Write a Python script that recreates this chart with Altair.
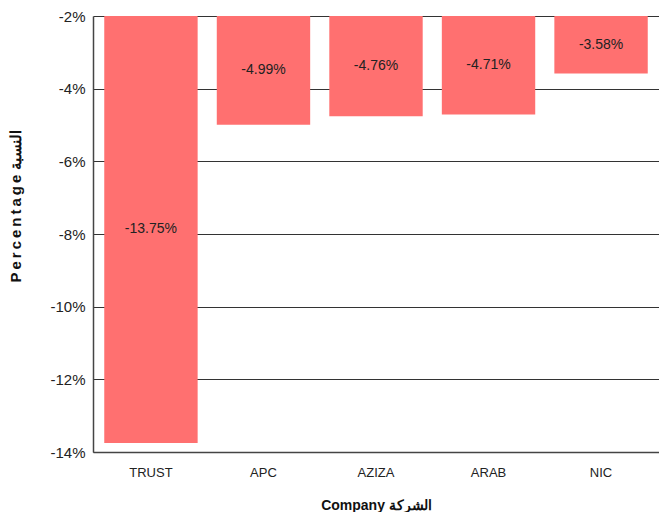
import altair as alt
import pandas as pd

companies = ["TRUST", "APC", "AZIZA", "ARAB", "NIC"]
values = [-13.75, -4.99, -4.76, -4.71, -3.58]
y_ticks = [-14, -12, -10, -8, -6, -4, -2]

df = pd.DataFrame({"company": companies, "value": values})
df["lab"] = [f"{v:.2f}%" for v in values]

FONT = "Liberation Sans"
TS = "\u2009"
y_title = TS.join("Percentage") + " النسبة"

x_enc = alt.X(
    "company:N",
    sort=companies,
    scale=alt.Scale(paddingInner=0.17, paddingOuter=0.1),
    axis=alt.Axis(
        title="Company الشركة",
        labelAngle=0,
        ticks=False,
        labelPadding=14,
        titlePadding=19,
        labelFont=FONT,
        labelFontSize=13,
        labelColor="#222",
        titleFont=FONT,
        titleFontSize=14,
        titleFontWeight="bold",
        titleColor="#111",
        domainColor="#444",
        domainWidth=1.5,
        grid=False,
    ),
)

base = alt.Chart(df).transform_calculate(
    top="-2", mid="(datum.value + (-2)) / 2"
)

bars = base.mark_bar(color="#FF7070").encode(
    x=x_enc,
    y=alt.Y(
        "value:Q",
        scale=alt.Scale(domain=[-14, -2], nice=False, zero=False),
        axis=alt.Axis(
            values=y_ticks,
            labelExpr="datum.value + '%'",
            title=y_title,
            titleY=190,
            ticks=False,
            labelPadding=8,
            titlePadding=26,
            labelFont=FONT,
            labelFontSize=15,
            labelColor="#222",
            titleFont=FONT,
            titleFontSize=15,
            titleFontWeight="bold",
            titleColor="#111",
            domainColor="#444",
            domainWidth=1.5,
            grid=True,
            gridColor="#333",
            gridWidth=1.2,
            gridOpacity=1,
        ),
    ),
    y2="top:Q",
)

texts = base.mark_text(font=FONT, fontSize=14, color="#222").encode(
    x=alt.X("company:N", sort=companies),
    y=alt.Y("mid:Q"),
    text="lab:N",
)

chart = (
    alt.layer(bars, texts)
    .properties(width=566, height=436, padding={"left": 0, "top": 1, "right": 0, "bottom": 0})
    .configure_view(stroke=None)
)

chart.save("out.html", embed_options={"renderer": "svg", "actions": False})
